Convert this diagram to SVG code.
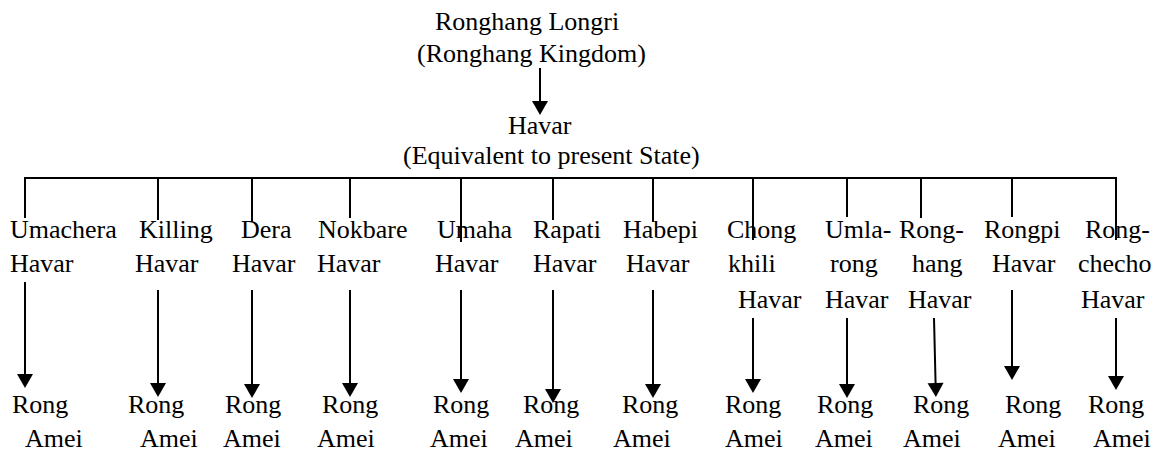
<svg xmlns="http://www.w3.org/2000/svg" width="1160" height="453" viewBox="0 0 1160 453" font-family="'Liberation Serif', Tinos, 'Times New Roman', Times, 'DejaVu Serif', serif">
<style>
text{font-family:'Liberation Serif', Tinos, 'Times New Roman', Times, 'DejaVu Serif', serif;font-size:26px;fill:#000}
.ln{stroke:#000;stroke-width:2;fill:none}
</style>
<defs>
<marker id="ah" markerUnits="userSpaceOnUse" markerWidth="16" markerHeight="18" viewBox="0 -9 15 18" refX="1" refY="0" orient="auto">
<path d="M0,-8 L14,0 L0,8 Z" fill="#000"/>
</marker>
</defs>
<rect width="1160" height="453" fill="#fff"/>
<g id="root">
<text x="435" y="30">Ronghang Longri</text>
<text x="417" y="62">(Ronghang Kingdom)</text>
</g>
<g id="havar">
<text x="508" y="134">Havar</text>
<text x="403" y="164">(Equivalent to present State)</text>
</g>
<g id="connectors">
<line class="ln" x1="540" y1="68" x2="540" y2="102" marker-end="url(#ah)"/>
<line class="ln" x1="24" y1="178" x2="1117" y2="178"/>
<line class="ln" x1="25" y1="178" x2="25" y2="218"/>
<line class="ln" x1="158" y1="178" x2="158" y2="220"/>
<line class="ln" x1="252" y1="178" x2="252" y2="222"/>
<line class="ln" x1="350" y1="178" x2="350" y2="218"/>
<line class="ln" x1="461" y1="178" x2="461" y2="242"/>
<line class="ln" x1="553" y1="178" x2="553" y2="220"/>
<line class="ln" x1="653" y1="178" x2="653" y2="222"/>
<line class="ln" x1="753" y1="178" x2="753" y2="240"/>
<line class="ln" x1="847" y1="178" x2="847" y2="217"/>
<line class="ln" x1="921" y1="178" x2="921" y2="218"/>
<line class="ln" x1="1012" y1="178" x2="1012" y2="217"/>
<line class="ln" x1="1116" y1="178" x2="1116" y2="240"/>
<line class="ln" x1="25" y1="282" x2="25" y2="375" marker-end="url(#ah)"/>
<line class="ln" x1="158" y1="290" x2="158" y2="384" marker-end="url(#ah)"/>
<line class="ln" x1="252" y1="290" x2="252" y2="385" marker-end="url(#ah)"/>
<line class="ln" x1="350" y1="290" x2="350" y2="384" marker-end="url(#ah)"/>
<line class="ln" x1="461" y1="290" x2="461" y2="380" marker-end="url(#ah)"/>
<line class="ln" x1="553" y1="290" x2="553" y2="390" marker-end="url(#ah)"/>
<line class="ln" x1="653" y1="290" x2="653" y2="385" marker-end="url(#ah)"/>
<line class="ln" x1="753" y1="318" x2="753" y2="380" marker-end="url(#ah)"/>
<line class="ln" x1="847" y1="318" x2="847" y2="385" marker-end="url(#ah)"/>
<line class="ln" x1="934" y1="318" x2="935.6" y2="384" marker-end="url(#ah)"/>
<line class="ln" x1="1012" y1="290" x2="1012" y2="367" marker-end="url(#ah)"/>
<line class="ln" x1="1116" y1="318" x2="1116" y2="377" marker-end="url(#ah)"/>
</g>
<g id="umachera"><text x="10" y="238">Umachera</text><text x="10" y="272">Havar</text></g>
<g id="killing"><text x="139" y="238">Killing</text><text x="135" y="272">Havar</text></g>
<g id="dera"><text x="241" y="238">Dera</text><text x="232" y="272">Havar</text></g>
<g id="nokbare"><text x="318" y="238">Nokbare</text><text x="317" y="272">Havar</text></g>
<g id="umaha"><text x="437" y="238">Umaha</text><text x="435" y="272">Havar</text></g>
<g id="rapati"><text x="533" y="238">Rapati</text><text x="533" y="272">Havar</text></g>
<g id="habepi"><text x="623" y="238">Habepi</text><text x="626" y="272">Havar</text></g>
<g id="chongkhili"><text x="727" y="238">Chong</text><text x="728" y="272">khili</text><text x="738" y="308">Havar</text></g>
<g id="umlarong"><text x="825" y="238">Umla-</text><text x="830" y="272">rong</text><text x="825" y="308">Havar</text></g>
<g id="ronghang"><text x="899" y="238">Rong-</text><text x="912" y="272">hang</text><text x="908" y="308">Havar</text></g>
<g id="rongpi"><text x="984" y="238">Rongpi</text><text x="992" y="272">Havar</text></g>
<g id="rongchecho"><text x="1085" y="238">Rong-</text><text x="1078" y="272">checho</text><text x="1081" y="308">Havar</text></g>
<g id="amei1"><text x="12" y="413">Rong</text><text x="25" y="447">Amei</text></g>
<g id="amei2"><text x="128" y="413">Rong</text><text x="140" y="447">Amei</text></g>
<g id="amei3"><text x="225" y="413">Rong</text><text x="223" y="447">Amei</text></g>
<g id="amei4"><text x="322" y="413">Rong</text><text x="317" y="447">Amei</text></g>
<g id="amei5"><text x="433" y="413">Rong</text><text x="430" y="447">Amei</text></g>
<g id="amei6"><text x="523" y="413">Rong</text><text x="515" y="447">Amei</text></g>
<g id="amei7"><text x="622" y="413">Rong</text><text x="613" y="447">Amei</text></g>
<g id="amei8"><text x="725" y="413">Rong</text><text x="725" y="447">Amei</text></g>
<g id="amei9"><text x="817" y="413">Rong</text><text x="815" y="447">Amei</text></g>
<g id="amei10"><text x="913" y="413">Rong</text><text x="903" y="447">Amei</text></g>
<g id="amei11"><text x="1005" y="413">Rong</text><text x="998" y="447">Amei</text></g>
<g id="amei12"><text x="1088" y="413">Rong</text><text x="1093" y="447">Amei</text></g>
</svg>
